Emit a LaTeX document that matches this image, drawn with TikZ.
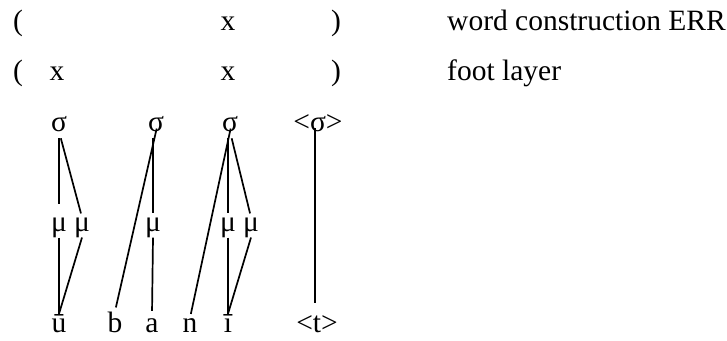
\documentclass[tikz,border=0pt]{standalone}
\usepackage{fontspec}
\setmainfont{Liberation Serif}
\usetikzlibrary{positioning}

\tikzset{
  seg/.style={inner sep=0pt, anchor=base},
  tier/.style={inner sep=0pt, anchor=base west},
  assoc/.style={line width=1.7pt},
}

\begin{document}
\begin{tikzpicture}[x=1pt, y=-1pt, font=\fontsize{29.5}{35}\selectfont]
  \useasboundingbox (0,0) rectangle (727,340);
  % word layer
  \node[tier] (wl) at (13,30) {(};
  \node[seg] (wx) at (228,30) {x};
  \node[tier] (wr) at (331,30) {)};
  \node[tier] (wlab) at (447,30) {word construction ERR};
  % foot layer
  \node[tier] (fl) at (13,80) {(};
  \node[seg] (fx1) at (57,80) {x};
  \node[seg] (fx2) at (228,80) {x};
  \node[tier] (fr) at (331,80) {)};
  \node[tier] (flab) at (447,80) {foot layer};
  % syllables
  \node[seg] (s1) at (59,131) {σ};
  \node[seg] (s2) at (156,131) {σ};
  \node[seg] (s3) at (230,131) {σ};
  \node[seg] (s4) at (318,131) {<σ>};
  % moras
  \node[seg] (m1) at (59,231) {μ};
  \node[seg] (m2) at (82,231) {μ};
  \node[seg] (m3) at (153,231) {μ};
  \node[seg] (m4) at (228,231) {μ};
  \node[seg] (m5) at (251,231) {μ};
  % segments
  \node[seg] (u) at (59,332) {ū};
  \node[seg] (b) at (115,332) {b};
  \node[seg] (a) at (152,332) {a};
  \node[seg] (n) at (190,332) {n};
  \node[seg] (i) at (228,332) {ī};
  \node[seg] (t) at (317,332) {<t>};
  % links
  \draw[assoc, shorten <=7pt, shorten >=13pt] (s1.south) -- (m1.north);
  \draw[assoc, shorten <=7pt, shorten >=4pt] (s1.south) -- (m2.north);
  \draw[assoc] (m1.south) -- (u.north);
  \draw[assoc] (m2.south) -- (u.north);
  \draw[assoc, shorten <=-3pt, shorten >=4pt] (s2.south) -- (b.north);
  \draw[assoc, shorten <=7pt, shorten >=4pt] (m3.north |- s2.south) -- (m3.north);
  \draw[assoc, shorten >=3pt] (m3.south) -- (a.north |- i.north);
  \draw[assoc, shorten <=-3pt, shorten >=4pt] (s3.south) -- (n.north);
  \draw[assoc, shorten <=7pt, shorten >=4pt] (m4.north |- s3.south) -- (m4.north);
  \draw[assoc, shorten <=7pt, shorten >=4pt] (s3.south) -- (m5.north);
  \draw[assoc] (m4.south) -- (i.north);
  \draw[assoc] (m5.south) -- (i.north);
  \draw[assoc, shorten <=-3pt, shorten >=12pt] ([xshift=-3pt]s4.south) -- ([xshift=-2pt]t.north);
\end{tikzpicture}
\end{document}
